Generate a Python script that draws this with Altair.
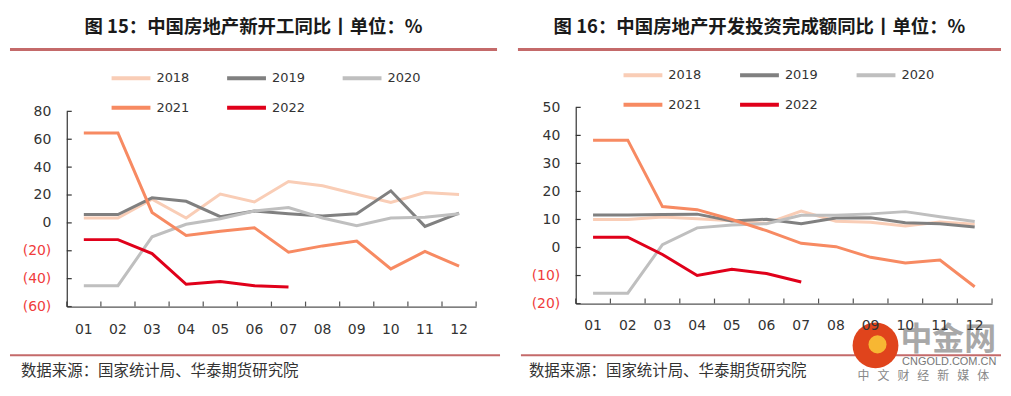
import altair as alt
import pandas as pd

months = ["01", "02", "03", "04", "05", "06", "07", "08", "09", "10", "11", "12"]
years = ["2018", "2019", "2020", "2021", "2022"]
colors = ["#F9CDB6", "#808080", "#BFBFBF", "#F78A62", "#E0001A"]

# 图15 新开工同比
ns_2018 = [3.5, 3.5, 17, 3.5, 20.7, 15, 29.7, 26.6, 20.5, 14.7, 21.8, 20.4]
ns_2019 = [6, 6, 18, 15.5, 4.5, 8.5, 6.5, 5, 6.5, 23, -2.5, 7]
ns_2020 = [-45, -45, -10, -1, 3, 8.5, 11, 3.5, -2, 3.5, 4, 6.5]
ns_2021 = [64.5, 64.5, 7.5, -9, -6, -3.5, -21, -16.5, -13, -33, -20.5, -31]
ns_2022 = [-12, -12, -22, -44, -42, -45, -46]

# 图16 开发投资完成额同比
inv_2018 = [10, 10, 10.9, 10.3, 9.5, 8.6, 13, 9.4, 9, 7.7, 9.1, 8.3]
inv_2019 = [11.6, 11.6, 11.8, 11.9, 9.5, 10.1, 8.5, 10.5, 10.6, 8.8, 8.5, 7.3]
inv_2020 = [-16.3, -16.3, 1, 7, 8, 8.5, 11.5, 11.5, 12, 12.8, 11, 9.3]
inv_2021 = [38.3, 38.3, 14.6, 13.5, 10, 6, 1.5, 0.3, -3.5, -5.5, -4.5, -14]
inv_2022 = [3.7, 3.7, -2.5, -10, -7.8, -9.3, -12.3]

ns_ticks = [80, 60, 40, 20, 0, -20, -40, -60]
inv_ticks = [50, 40, 30, 20, 10, 0, -10, -20]

titles = ["图 15：中国房地产新开工同比丨单位：%", "图 16：中国房地产开发投资完成额同比丨单位：%"]
source = "数据来源：国家统计局、华泰期货研究院"
wm_texts = ["中金网", "CNGOLD.COM.CN", "\u00a0\u00a0\u00a0".join("中文财经新媒体")]

CJK = "Noto Sans CJK SC"
NUM = "DejaVu Sans"

ORIGIN_Y = 107  # page y of both panels' view origin


def long_df(series):
    rows = []
    for y, vals in zip(years, series):
        for m, v in zip(months, vals):
            rows.append({"month": m, "value": v, "year": y})
    return pd.DataFrame(rows)


def one():
    return alt.Data(values=[{}])


def panel(series, ydomain, yticks, title, px, plot_top, plot_bottom, w, box, rules, leg,
          lab_pad_y, lab_pad_x, src_x, watermark=False):
    py = ORIGIN_Y
    h = plot_bottom - py
    bx0, bx1, by0, by1 = box
    xs = alt.Scale(type="band", domain=months, paddingInner=0, paddingOuter=0)
    ys = alt.Scale(domain=ydomain, nice=False, zero=False, range=[h, plot_top - py])
    xaxis = alt.Axis(title=None, ticks=False, labelAngle=0, domainColor="#555555", domainWidth=1.2,
                     labelPadding=lab_pad_x, labelFont=NUM, labelFontSize=14, labelColor="#333333",
                     grid=False, zindex=1)
    yaxis = alt.Axis(title=None, ticks=False, values=yticks, domainColor="#333333", domainWidth=1.2,
                     labelPadding=lab_pad_y, labelFont=NUM, labelFontSize=14, grid=False, zindex=1,
                     labelExpr="datum.value < 0 ? '(' + (-datum.value) + ')' : datum.label",
                     labelColor={"condition": {"test": "datum.value < 0", "value": "#F03C3C"}, "value": "#333333"})

    bg = alt.Chart(one()).mark_rect(fill="white", stroke=None).encode(
        x=alt.value(bx0 - px), x2=alt.value(bx1 - px), y=alt.value(by0 - py), y2=alt.value(by1 - py))

    df = long_df(series)
    lines = alt.Chart(df).mark_line(strokeWidth=3).encode(
        x=alt.X("month:O", scale=xs, axis=xaxis),
        y=alt.Y("value:Q", scale=ys, axis=yaxis),
        color=alt.Color("year:N", scale=alt.Scale(domain=years, range=colors),
                        legend=alt.Legend(orient="none", legendX=leg[0] - px, legendY=leg[1] - py,
                                          direction="horizontal", columns=3, title=None,
                                          symbolType="stroke", symbolSize=1521, symbolStrokeWidth=4,
                                          labelFont=NUM, labelFontSize=13, labelColor="#333333",
                                          labelOffset=4, columnPadding=leg[2], rowPadding=leg[3])),
    )

    ytick = alt.Chart(pd.DataFrame({"value": yticks})).mark_rule(color="#333333", strokeWidth=1.2).encode(
        y=alt.Y("value:Q", scale=ys, axis=yaxis), x=alt.value(0), x2=alt.value(5))
    mdf = pd.DataFrame({"month": months})
    xtick = alt.Chart(mdf).mark_rule(color="#555555", strokeWidth=1.2).encode(
        x=alt.X("month:O", scale=xs, axis=xaxis, bandPosition=0), y=alt.value(h), y2=alt.value(h - 5))
    xtick_end = alt.Chart(pd.DataFrame({"month": months[-1:]})).mark_rule(color="#555555", strokeWidth=1.2).encode(
        x=alt.X("month:O", scale=xs, axis=xaxis, bandPosition=1), y=alt.value(h), y2=alt.value(h - 5))

    tx0, tx1, bx0r, bx1r = rules
    ttl = alt.Chart(pd.DataFrame({"t": [title]})).mark_text(
        font=CJK, fontSize=18.5, fontWeight="bold", color="#1A1A1A", align="center", baseline="alphabetic"
    ).encode(text="t:N", x=alt.value((tx0 + tx1) / 2 - px), y=alt.value(32 - py))

    top_rule = alt.Chart(one()).mark_rule(color="#C46A6A", strokeWidth=3).encode(
        x=alt.value(tx0 - px), x2=alt.value(tx1 - px), y=alt.value(49 - py))
    bot_rule = alt.Chart(one()).mark_rule(color="#C46A6A", strokeWidth=2).encode(
        x=alt.value(bx0r - px), x2=alt.value(bx1r - px), y=alt.value(356 - py))
    src = alt.Chart(pd.DataFrame({"t": [source]})).mark_text(
        font=CJK, fontSize=15.5, color="#333333", align="left", baseline="middle"
    ).encode(text="t:N", x=alt.value(src_x - px), y=alt.value(372 - py))

    layers = [bg, top_rule, bot_rule, ttl, src, lines, ytick, xtick, xtick_end]

    if watermark:
        circ = alt.Chart(one()).mark_point(shape="circle", filled=True, size=2116, color="#E0441C", opacity=1).encode(
            x=alt.value(877 - px), y=alt.value(346 - py))
        inner = alt.Chart(one()).mark_point(shape="circle", filled=True, size=330, color="#F7B733", opacity=1).encode(
            x=alt.value(879 - px), y=alt.value(345 - py))
        wm1 = alt.Chart(pd.DataFrame({"t": wm_texts[:1]})).mark_text(
            font=CJK, fontSize=32, fontWeight="bold", color="#A8A8A8", align="center", baseline="middle"
        ).encode(text="t:N", x=alt.value(950 - px), y=alt.value(341 - py))
        wm2 = alt.Chart(pd.DataFrame({"t": wm_texts[1:2]})).mark_text(
            font="Liberation Sans", fontSize=11, color="#777777", align="center", baseline="middle"
        ).encode(text="t:N", x=alt.value(951 - px), y=alt.value(363 - py))
        wm3 = alt.Chart(pd.DataFrame({"t": wm_texts[2:]})).mark_text(
            font=CJK, fontSize=12, color="#888888", align="center", baseline="middle"
        ).encode(text="t:N", x=alt.value(925 - px), y=alt.value(377 - py))
        layers += [circ, inner, wm1, wm2, wm3]

    return alt.layer(*layers).properties(width=w, height=h)


p1 = panel([ns_2018, ns_2019, ns_2020, ns_2021, ns_2022], [-60, 80], ns_ticks, titles[0],
           65, 111, 307, 411, (8, 505, 8, 382), (8, 497, 8, 500), (108, 56, 29, 0), 16, 16, 19)
p2 = panel([inv_2018, inv_2019, inv_2020, inv_2021, inv_2022], [-20, 50], inv_ticks, titles[1],
           576, 107, 304, 418, (505, 1003, 8, 382), (518, 1003, 521, 1003), (622, 53, 30, 0), 16, 15, 529,
           watermark=True)

chart = alt.hconcat(p1, p2, spacing=0).resolve_scale(
    color="independent", x="independent", y="independent").resolve_legend(color="independent").configure(
    padding=0).configure_view(stroke=None)

chart.save("out.html", embed_options={"renderer": "svg", "actions": False})
